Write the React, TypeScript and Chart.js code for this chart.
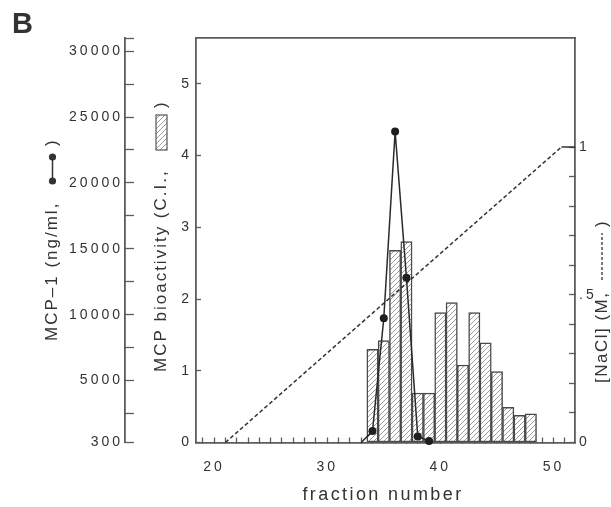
import React, { useEffect, useRef } from 'react';
import { Chart, registerables } from 'chart.js';

Chart.register(...registerables);

// ---------- data ----------
const fractionNumbers = [34, 35, 36, 37, 38, 39, 40, 41, 42, 43, 44, 45, 46, 47, 48];
const bioactivityCI = [1.3, 1.42, 2.68, 2.8, 0.69, 0.69, 1.81, 1.95, 1.08, 1.81, 1.39, 0.99, 0.49, 0.38, 0.4];

const mcp1Fractions = [33, 34, 35, 36, 37, 38, 39];
const mcp1NgMl = [300, 1170, 9730, 23900, 12810, 760, 410];

const naclFractions = [21, 50.7, 52];
const naclMolar = [0, 1, 1];

// ---------- ticks ----------
const xLabelTicks = [20, 30, 40, 50];
const bioTicks = [0, 1, 2, 3, 4, 5];
const mcpLabelTicks = [300, 5000, 10000, 15000, 20000, 25000, 30000];
const mcpMinorTicks = [2500, 7500, 12500, 17500, 22500, 27500, 31000];
const naclLabelTicks = [0, 0.5, 1];
const naclTickLabels = ['0', '.5', '1'];
const naclMinorTicks = [0.1, 0.2, 0.3, 0.4, 0.6, 0.7, 0.8, 0.9];

const X_MIN = 18.4;
const X_MAX = 51.9;

const TEXT = '#333333';
const AXIS = '#5c5c5c';
const FONT = '"Liberation Sans", Arial, Helvetica, sans-serif';

function makeHatch(ctx: CanvasRenderingContext2D) {
  const c = document.createElement('canvas');
  c.width = 5;
  c.height = 5;
  const g = c.getContext('2d')!;
  g.fillStyle = '#ffffff';
  g.fillRect(0, 0, 5, 5);
  g.strokeStyle = '#9c9c9c';
  g.lineWidth = 1;
  g.beginPath();
  g.moveTo(0, 5); g.lineTo(5, 0);
  g.moveTo(-1, 1); g.lineTo(1, -1);
  g.moveTo(4, 6); g.lineTo(6, 4);
  g.stroke();
  return ctx.createPattern(c, 'repeat')!;
}

function vText(ctx: CanvasRenderingContext2D, text: string, cx: number, yBottom: number, ls: number) {
  ctx.save();
  ctx.translate(cx, yBottom);
  ctx.rotate(-Math.PI / 2);
  (ctx as any).letterSpacing = ls + 'px';
  ctx.textAlign = 'left';
  ctx.textBaseline = 'middle';
  ctx.fillText(text, 0, 0);
  ctx.restore();
}

export default function App() {
  const ref = useRef<HTMLCanvasElement | null>(null);

  useEffect(() => {
    const canvas = ref.current!;
    const ctx0 = canvas.getContext('2d')!;
    const hatch = makeHatch(ctx0);

    const xMinor: number[] = [];
    for (let v = 19; v <= 51; v++) xMinor.push(v);

    const textPlugin = {
      id: 'figText',
      beforeUpdate(chart: any) { chart.ctx.letterSpacing = '3px'; },
      beforeDraw(chart: any) { chart.ctx.letterSpacing = '3px'; },
      afterDraw(chart: any) {
        const ctx: CanvasRenderingContext2D = chart.ctx;
        ctx.save();
        ctx.fillStyle = TEXT;
        ctx.strokeStyle = TEXT;
        (ctx as any).letterSpacing = '0px';
        ctx.font = `bold 29px ${FONT}`;
        ctx.textBaseline = 'alphabetic';
        ctx.textAlign = 'left';
        ctx.fillText('B', 12, 33);

        ctx.font = `17px ${FONT}`;
        // outer axis title: MCP-1 (ng/ml, [line+dots] )
        vText(ctx, 'MCP\u20131 (ng/ml,', 52, 341, 2);
        ctx.lineWidth = 1.5;
        ctx.beginPath();
        ctx.moveTo(52.5, 157); ctx.lineTo(52.5, 181);
        ctx.stroke();
        ctx.beginPath(); ctx.arc(52.5, 157, 3.6, 0, Math.PI * 2); ctx.fill();
        ctx.beginPath(); ctx.arc(52.5, 181, 3.6, 0, Math.PI * 2); ctx.fill();
        vText(ctx, ')', 52, 146, 0);

        // inner axis title: MCP bioactivity (C.I., [hatched box] )
        vText(ctx, 'MCP bioactivity (C.I.,', 161, 372, 2);
        ctx.save();
        ctx.fillStyle = hatch;
        ctx.fillRect(156, 115, 11, 35);
        ctx.strokeStyle = '#555';
        ctx.lineWidth = 1.2;
        ctx.strokeRect(156, 115, 11, 35);
        ctx.restore();
        vText(ctx, ')', 161, 108, 0);

        // right axis title: [NaCl] (M, ------ )
        vText(ctx, '[NaCl] (M,', 602, 383, 1.5);
        ctx.save();
        ctx.setLineDash([3, 2]);
        ctx.lineWidth = 1.3;
        ctx.beginPath();
        ctx.moveTo(602, 280); ctx.lineTo(602, 233);
        ctx.stroke();
        ctx.restore();
        vText(ctx, ')', 602, 227, 0);

        // x title
        (ctx as any).letterSpacing = '2.4px';
        ctx.font = `18px ${FONT}`;
        ctx.textAlign = 'center';
        ctx.textBaseline = 'alphabetic';
        ctx.fillText('fraction number', 383, 500);
        ctx.restore();
      },
    };

    const tickFont = { family: FONT, size: 14 };

    const chart = new Chart(canvas, {
      type: 'bar',
      data: {
        datasets: [
          {
            type: 'line',
            label: 'MCP-1',
            data: mcp1Fractions.map((f, i) => ({ x: f, y: mcp1NgMl[i] })),
            xAxisID: 'x',
            yAxisID: 'yM',
            borderColor: '#2a2a2a',
            borderWidth: 1.5,
            pointRadius: (c: any) => (c.dataIndex === 0 ? 0 : 4),
            pointBackgroundColor: '#1e1e1e',
            pointBorderWidth: 0,
            tension: 0,
            clip: false,
            order: 0,
          } as any,
          {
            type: 'line',
            label: 'NaCl',
            data: naclFractions.map((f, i) => ({ x: f, y: naclMolar[i] })),
            xAxisID: 'x',
            yAxisID: 'yN',
            borderColor: '#333333',
            borderWidth: 1.5,
            borderDash: [4, 2.5],
            pointRadius: 0,
            tension: 0,
            segment: { borderDash: (c: any) => (c.p0DataIndex === 1 ? [] : [4, 2.5]) },
            order: 1,
          } as any,
          {
            type: 'bar',
            label: 'MCP bioactivity',
            data: fractionNumbers.map((f, i) => ({ x: f, y: bioactivityCI[i] })),
            xAxisID: 'x',
            yAxisID: 'y',
            backgroundColor: hatch,
            borderColor: '#4a4a4a',
            borderWidth: 1.5,
            borderSkipped: false,
            barPercentage: 1,
            categoryPercentage: 1,
            grouped: false,
            order: 2,
          } as any,
        ],
      },
      options: {
        animation: false,
        responsive: false,
        events: [],
        layout: { padding: { top: 38, left: 0, right: 0, bottom: 0 } },
        plugins: { legend: { display: false }, tooltip: { enabled: false } },
        scales: {
          x: {
            type: 'linear',
            position: 'bottom',
            min: X_MIN,
            max: X_MAX,
            offset: false,
            bounds: 'data',
            afterBuildTicks: (s: any) => { s.ticks = xMinor.map((v) => ({ value: v })); },
            afterFit: (s: any) => { s.height = 64.5; },
            ticks: {
              autoSkip: false,
              maxRotation: 0,
              padding: 21,
              color: TEXT,
              font: tickFont,
              callback: (v: any) => (xLabelTicks.includes(v) ? String(v) : ''),
            },
            grid: { offset: false, drawOnChartArea: false, drawTicks: true, tickLength: -5, color: AXIS, tickColor: AXIS, tickWidth: 1.3 },
            border: { display: true, color: AXIS, width: 1.8 },
          },
          xTop: {
            type: 'linear',
            position: 'top',
            min: X_MIN,
            max: X_MAX,
            afterFit: (s: any) => { s.height = 0; },
            ticks: { display: false },
            grid: { drawOnChartArea: false, drawTicks: false },
            border: { display: true, color: AXIS, width: 1.8 },
          },
          y: {
            type: 'linear',
            position: 'left',
            weight: 0,
            min: 0,
            max: 5.64,
            bounds: 'data',
            afterBuildTicks: (s: any) => { s.ticks = bioTicks.map((v) => ({ value: v })); },
            afterFit: (s: any) => { s.width = 71; },
            ticks: { padding: 9, color: TEXT, font: tickFont, callback: (v: any) => String(v) },
            grid: { drawOnChartArea: false, drawTicks: true, tickLength: -5, color: AXIS, tickColor: AXIS, tickWidth: 1.3 },
            border: { display: true, color: AXIS, width: 1.8 },
          },
          yM: {
            type: 'linear',
            position: 'left',
            weight: 1,
            min: 300,
            max: 31000,
            bounds: 'data',
            afterBuildTicks: (s: any) => {
              s.ticks = [...mcpLabelTicks, ...mcpMinorTicks].sort((a, b) => a - b).map((v) => ({ value: v }));
            },
            afterFit: (s: any) => { s.width = 125; },
            ticks: {
              padding: 11,
              color: TEXT,
              font: tickFont,
              callback: (v: any) => (mcpLabelTicks.includes(v) ? String(v) : ''),
            },
            grid: { drawOnChartArea: false, drawTicks: true, tickLength: -9, color: AXIS, tickColor: AXIS, tickWidth: 1.3 },
            border: { display: true, color: AXIS, width: 1.8 },
          },
          yN: {
            type: 'linear',
            position: 'right',
            min: 0,
            max: 1.369,
            bounds: 'data',
            afterBuildTicks: (s: any) => {
              s.ticks = [...naclLabelTicks, ...naclMinorTicks].sort((a, b) => a - b).map((v) => ({ value: v }));
            },
            afterFit: (s: any) => { s.width = 36; },
            ticks: {
              padding: 10,
              color: TEXT,
              font: tickFont,
              callback: (v: any) => {
                const i = naclLabelTicks.indexOf(v);
                return i >= 0 ? naclTickLabels[i] : '';
              },
            },
            grid: { drawOnChartArea: false, drawTicks: true, tickLength: -6, color: AXIS, tickColor: AXIS, tickWidth: 1.3 },
            border: { display: true, color: AXIS, width: 1.8 },
          },
        },
      } as any,
      plugins: [textPlugin as any],
    });

    return () => chart.destroy();
  }, []);

  return (
    <div style={{ position: 'absolute', left: 0, top: 0, width: 611, height: 507, background: '#ffffff' }}>
      <canvas ref={ref} width={611} height={507} />
    </div>
  );
}
